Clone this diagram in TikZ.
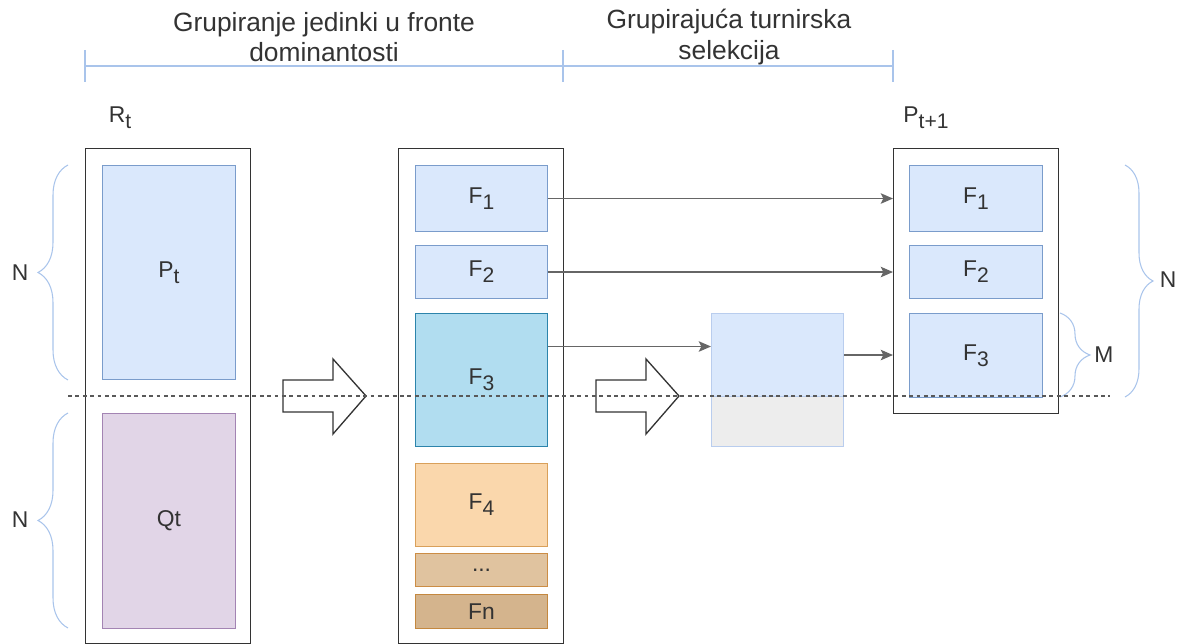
\documentclass[tikz,border=0pt]{standalone}
\usepackage{fontspec}
\setmainfont{Liberation Sans}
\usetikzlibrary{arrows,arrows.meta,calc,decorations.pathreplacing}
\definecolor{blueFill}{HTML}{DAE8FC}
\definecolor{blueLine}{HTML}{7A9CCB}
\definecolor{violetFill}{HTML}{E1D5E7}
\definecolor{violetLine}{HTML}{A384B3}
\definecolor{cyanFill}{HTML}{B1DDF0}
\definecolor{cyanLine}{HTML}{2C84AB}
\definecolor{orangeFill}{HTML}{FAD7AC}
\definecolor{orangeLine}{HTML}{D9A05A}
\definecolor{tanFill}{HTML}{E0C39F}
\definecolor{tanLine}{HTML}{CC8D45}
\definecolor{brownFill}{HTML}{D4B48D}
\definecolor{brownLine}{HTML}{C4883F}
\definecolor{paleFill}{HTML}{DAE8FC}
\definecolor{paleLine}{HTML}{B9CDEE}
\definecolor{palegrayFill}{HTML}{EDEDED}
\definecolor{palegrayLine}{HTML}{B9CDEE}
\definecolor{hint}{HTML}{A9C4EB}
\definecolor{ink}{HTML}{333333}
\newcommand{\lowsub}[1]{\raisebox{-0.5ex}{\fontsize{12}{12}\selectfont #1}}
\tikzset{ %inner sep = 0.5mm,
  {pxsize/.style 2 args} ={minimum width=#1*0.02cm, minimum height=#2*0.02cm},
  {frame/.style} ={draw=black!80, line width=0.75pt, anchor=north west, inner sep=0},
  {part/.style} ={draw=#1Line, fill=#1Fill, line width=0.6pt, anchor=north west,
                  inner sep=0, text=ink, font=\fontsize{13}{15}\selectfont},
  {label/.style} ={text=ink, font=\fontsize{13}{15}\selectfont, inner sep=0},
  {header/.style} ={text=ink, align=center, font=\fontsize{15}{17.5}\selectfont, inner sep=0},
  {guide/.style} ={draw=hint, line width=0.6pt},
  {curly/.style} ={guide, decorate, decoration={brace, amplitude=#1}},
  {link/.style} ={draw=black!60, line width=0.7pt, ->},
  {bigarrow/.style} ={draw=black!80, fill=white, line width=0.75pt, line join=miter},
  {cut/.style} ={draw=black!65, line width=0.75pt, dash pattern=on 2.2pt off 2pt},
  >={Stealth[length=7pt, width=6pt, inset=1.5pt]},
 }

\begin{document}
\begin{tikzpicture}[x=0.02cm, y=-0.02cm]
\useasboundingbox (0,0) rectangle (1181,644);

% phases
\draw[guide] (85,66) -- (893,66);
\foreach \x in {85,563,893}
  \draw[guide] (\x,50) -- (\x,82);
\node[header] (phase1) at (324,37) {Grupiranje jedinki u fronte\\dominantosti};
\node[header] (phase2) at (729,37) {Grupirajuća turnirska\\selekcija};

% R_t
\node[frame, pxsize={165}{495}] (Rt) at (85,148) {};
\node[label] (RtName) at (120,118) {R\lowsub{t}};
\node[part=blue, pxsize={133}{214}] (Pt) at (102,165) {P\lowsub{t}};
\node[part=violet, pxsize={133}{215}] (Qt) at (102,413) {Qt};
\draw[curly=0.6cm] (68,380) -- (68,165);
\draw[curly=0.6cm] (68,628) -- (68,413);
\node[label] (Nup) at (20,273) {N};
\node[label] (Ndown) at (20,520) {N};

% fronts
\node[frame, pxsize={165}{495}] (Fronts) at (398,148) {};
\node[part=blue, pxsize={132}{66}] (F1m) at (415,165) {F\lowsub{1}};
\node[part=blue, pxsize={132}{53}] (F2m) at (415,245) {F\lowsub{2}};
\node[part=cyan, pxsize={132}{133}] (F3m) at (415,313) {F\lowsub{3}};
\node[part=orange, pxsize={132}{83}] (F4m) at (415,463) {F\lowsub{4}};
\node[part=tan, pxsize={132}{33}] (Fdots) at (415,553) {...};
\node[part=brown, pxsize={132}{34}] (Fn) at (415,594) {Fn};

% selection
\node[part=pale, pxsize={132}{83}] (Sel) at (711,313) {};
\node[part=palegray, pxsize={132}{50}] (SelRest) at (711,396) {};

% P_{t+1}
\node[frame, pxsize={165}{265}] (Pnext) at (893,148) {};
\node[label] (PnextName) at (926,118) {P\lowsub{t+1}};
\node[part=blue, pxsize={133}{66}] (F1r) at (909,165) {F\lowsub{1}};
\node[part=blue, pxsize={133}{53}] (F2r) at (909,245) {F\lowsub{2}};
\node[part=blue, pxsize={133}{84}] (F3r) at (909,313) {F\lowsub{3}};
\draw[curly=0.6cm] (1060,313) -- (1060,397);
\draw[curly=0.56cm] (1125,165) -- (1125,397);
\node[label] (Mlabel) at (1104,355) {M};
\node[label] (Nright) at (1168,280) {N};

% block arrows
\foreach \x in {283,596}
  \draw[bigarrow] (\x,380) -- ++(50,0) -- ++(0,-21) -- (\x+83,396)
    -- (\x+50,434) -- ++(0,-22) -- (\x,412) -- cycle;

% links
\draw[link] (F1m.east) -- (F1m.east -| Pnext.west);
\draw[link] (F2m.east) -- (F2m.east -| Pnext.west);
\coordinate (F3out) at ($(F3m.north east)!0.25!(F3m.south east)$);
\draw[link] (F3out) -- (F3out -| Sel.west);
\draw[link] (Sel.east) -- (Sel.east -| Pnext.west);

\draw[cut] (68,396) -- (1110,396);
\end{tikzpicture}
\end{document}
